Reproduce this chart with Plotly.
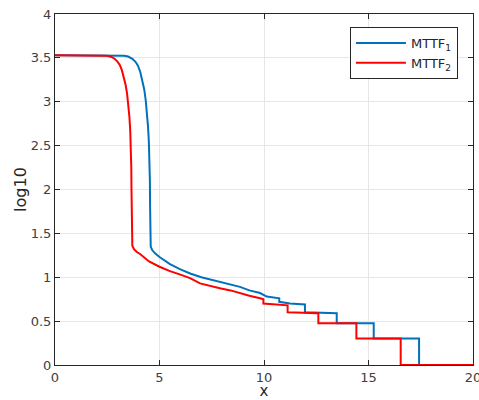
import plotly.graph_objects as go

# MTTF_1 curve (blue)
x1 = [0, 2.5, 3.0, 3.3, 3.5, 3.7, 3.85, 3.97, 4.08, 4.18, 4.27, 4.34, 4.40, 4.45, 4.49, 4.52,
      4.54, 4.55, 4.555, 4.58, 4.65, 4.8,
      5.0, 5.5, 6.0, 6.5, 7.0, 7.5, 7.9, 8.3, 8.85, 9.3, 9.81, 10.13, 10.73, 10.73, 11.24, 11.96,
      11.96, 13.48, 13.48, 15.25, 15.25, 17.42, 17.42, 20]
y1 = [3.53, 3.53, 3.53, 3.525, 3.515, 3.49, 3.455, 3.41, 3.34, 3.25, 3.14, 3.02, 2.88, 2.72, 2.55, 2.35,
      2.1, 1.8, 1.40, 1.35, 1.31, 1.27,
      1.23, 1.15, 1.09, 1.04, 1.00, 0.97, 0.95, 0.92, 0.89, 0.85, 0.82, 0.78, 0.76, 0.72, 0.70, 0.69,
      0.602, 0.59, 0.477, 0.477, 0.301, 0.301, 0, 0]

# MTTF_2 curve (red)
x2 = [0, 2.3, 2.5, 2.7, 2.85, 2.98, 3.1, 3.2, 3.3, 3.38, 3.45, 3.51, 3.56, 3.6, 3.63, 3.65,
      3.66, 3.67, 3.675, 3.7, 3.78, 3.9, 4.07, 4.5,
      5.0, 5.5, 6.0, 6.46, 6.94, 7.4, 7.89, 8.4, 8.85, 9.3, 9.81, 9.97, 9.97, 10.5, 11.13,
      11.13, 12.6, 12.6, 14.42, 14.42, 16.54, 16.54, 20]
y2 = [3.53, 3.53, 3.525, 3.51, 3.49, 3.46, 3.42, 3.36, 3.28, 3.19, 3.09, 2.97, 2.83, 2.67, 2.48, 2.25,
      2.0, 1.7, 1.40, 1.36, 1.32, 1.29, 1.265, 1.18,
      1.12, 1.07, 1.03, 0.99, 0.93, 0.90, 0.874, 0.85, 0.817, 0.79, 0.76, 0.75, 0.70, 0.69, 0.68,
      0.602, 0.59, 0.477, 0.477, 0.301, 0.301, 0, 0]

names = ["MTTF<sub>1</sub>", "MTTF<sub>2</sub>"]
colors = ["#0072BD", "#FF0000"]

x_ticks = [0, 5, 10, 15, 20]
y_ticks = [0, 0.5, 1, 1.5, 2, 2.5, 3, 3.5, 4]

fig = go.Figure()
for xs, ys, nm, c in [(x1, y1, names[0], colors[0]), (x2, y2, names[1], colors[1])]:
    fig.add_trace(go.Scatter(x=xs, y=ys, mode="lines", name=nm,
                             line=dict(color=c, width=2)))

axis_common = dict(
    showline=True, linecolor="#262626", linewidth=1, mirror="ticks",
    ticks="inside", ticklen=5, tickcolor="#262626",
    showgrid=True, gridcolor="#e6e6e6", gridwidth=1, zeroline=False,
    tickfont=dict(family="DejaVu Sans", size=13, color="#404040"),
    automargin=False,
)

fig.update_xaxes(range=[0, 20], tickvals=x_ticks, ticklabeloverflow="allow",
                 title=dict(text="x", standoff=4,
                            font=dict(family="DejaVu Sans", size=15, color="#262626")),
                 **axis_common)
fig.update_yaxes(range=[0, 4], tickvals=y_ticks,
                 ticktext=[f"{v:g}" for v in y_ticks],
                 title=dict(text="log10", standoff=0,
                            font=dict(family="DejaVu Sans", size=16, color="#262626")),
                 **axis_common)

fig.update_layout(
    width=479, height=400,
    margin=dict(l=55, r=6, t=14, b=35),
    plot_bgcolor="white", paper_bgcolor="white",
    font=dict(family="DejaVu Sans", color="#262626"),
    legend=dict(x=0.964, y=0.963, xanchor="right", yanchor="top",
                bgcolor="white", bordercolor="#262626", borderwidth=1,
                font=dict(family="DejaVu Sans", size=13, color="#262626"),
                itemwidth=50, tracegroupgap=4),
    showlegend=True,
)

fig.write_html("out.html")
